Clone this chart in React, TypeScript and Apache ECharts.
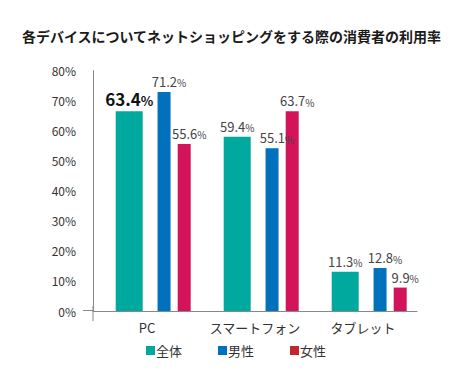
import React, { useEffect, useRef } from "react";
import * as echarts from "echarts";

const categories = ["PC", "スマートフォン", "タブレット"];
const seriesNames = ["全体", "男性", "女性"];
// bar heights as drawn in the picture (%)
const allBars = [66.5, 58.0, 13.1];
const maleBars = [72.9, 54.2, 14.3];
const femaleBars = [55.6, 66.5, 7.8];
// printed value labels (%)
const allLabels = ["63.4", "59.4", "11.3"];
const maleLabels = ["71.2", "55.1", "12.8"];
const femaleLabels = ["55.6", "63.7", "9.9"];
const yTicks = [0, 10, 20, 30, 40, 50, 60, 70, 80];

const barColors = ["#00A99D", "#0071BC", "#D4145A"];
const legendColors = ["#00A99D", "#0071BC", "#C1272D"];
const FONT = "'Noto Sans CJK JP', 'Noto Sans', sans-serif";

export default function App() {
  const ref = useRef<HTMLDivElement>(null);
  useEffect(() => {
    if (!ref.current) return;
    const chart = echarts.init(ref.current, null, { renderer: "svg" });
    const labelSets = [allLabels, maleLabels, femaleLabels];
    const dataSets = [allBars, maleBars, femaleBars];
    const widths = [27, 13, 13];
    const offsets = [[0, 0], [5, 0], [5, 0]];
    const rich = {
      n: { fontSize: 13, color: "#444", fontFamily: FONT },
      p: { fontSize: 10, color: "#444", fontFamily: FONT, padding: [3, 0, 0, 0] },
      b: { fontSize: 17, color: "#111", fontWeight: "bold", fontFamily: FONT },
      bp: { fontSize: 13, color: "#111", fontWeight: "bold", fontFamily: FONT, padding: [3, 0, 0, 0] },
    };
    const series: any[] = [
      {
        type: "bar",
        name: "spacer",
        data: categories.map(() => null),
        barWidth: 8,
        silent: true,
        itemStyle: { color: "transparent" },
      },
    ];
    seriesNames.forEach((name, si) => {
      series.push({
        type: "bar",
        name,
        data: dataSets[si],
        barWidth: widths[si],
        barGap: "55%",
        itemStyle: { color: barColors[si] },
        label: {
          show: true,
          position: "top",
          distance: 4,
          offset: offsets[si],
          rich,
          formatter: (p: any) => {
            const txt = labelSets[si][p.dataIndex];
            if (si === 0 && p.dataIndex === 0) return `{b|${txt}}{bp|%}`;
            return `{n|${txt}}{p|%}`;
          },
        },
      });
    });
    chart.setOption({
      animation: false,
      textStyle: { fontFamily: FONT },
      title: {
        text: "各デバイスについてネットショッピングをする際の消費者の利用率",
        left: "center",
        top: 24,
        textStyle: { fontSize: 14, fontWeight: "bold", color: "#1a1a1a", fontFamily: FONT },
      },
      legend: {
        bottom: 15,
        left: 141,
        itemWidth: 9,
        itemHeight: 9,
        itemGap: 36,
        icon: "rect",
        textStyle: { fontSize: 13, color: "#333", fontFamily: FONT, padding: [0, 0, 0, -4] },
        data: seriesNames.map((n, i) => ({ name: n, itemStyle: { color: legendColors[i] } })),
      },
      grid: { left: 93, width: 324, top: 70.6, bottom: 66, containLabel: false },
      xAxis: {
        type: "category",
        data: categories,
        axisLine: { lineStyle: { color: "#888", width: 1 } },
        axisTick: { show: false },
        axisLabel: { interval: 0, fontSize: 13, color: "#333", margin: 10, fontFamily: FONT },
      },
      yAxis: {
        type: "value",
        min: yTicks[0],
        max: yTicks[yTicks.length - 1],
        interval: 10,
        axisLine: { show: true, lineStyle: { color: "#888", width: 1 } },
        axisTick: { show: false },
        splitLine: { show: false },
        axisLabel: {
          fontSize: 12,
          color: "#333",
          margin: 17,
          fontFamily: FONT,
          formatter: (v: number) => `${v}%`,
        },
      },
      graphic: [
        { type: "line", shape: { x1: 93, y1: 306, x2: 93, y2: 321 }, style: { stroke: "#888", lineWidth: 1 } },
        { type: "line", shape: { x1: 83, y1: 310.5, x2: 93, y2: 310.5 }, style: { stroke: "#888", lineWidth: 1 } },
      ],
      series,
    });
    return () => chart.dispose();
  }, []);
  return <div ref={ref} style={{ width: 463, height: 377, margin: -8 }} />;
}
